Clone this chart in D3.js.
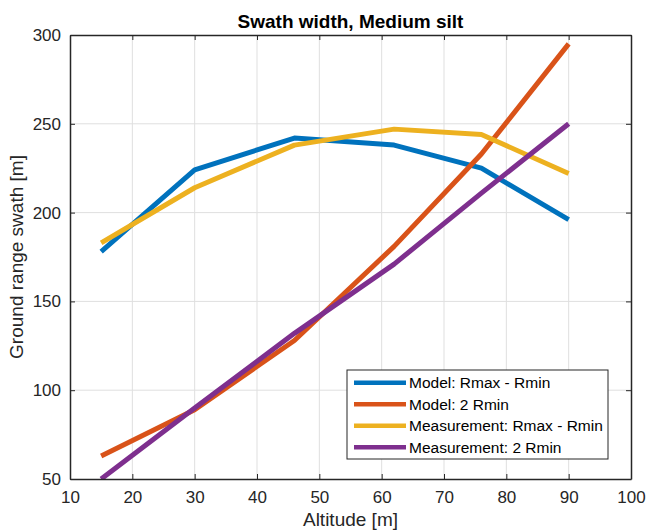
<!DOCTYPE html>
<html>
<head>
<meta charset="utf-8">
<script src="https://cdn.jsdelivr.net/npm/d3@7"></script>
<style>
  body { margin: 0; background: #fff; }
  svg { font-family: "Liberation Sans", Arial, sans-serif; }
  .axis path, .axis line { stroke: #262626; }
  .axis text { fill: #262626; font-size: 17px; }
</style>
</head>
<body>
<script>
// Width and height
var w = 646;
var h = 532;
var margin = {left: 70, right: 15, top: 35, bottom: 53};

// data
var altitude = [15, 30, 46, 62, 76, 90];
var modelSwath = [178, 224, 242, 238, 225, 196];
var model2Rmin = [63, 89, 128, 181, 233, 295];
var measSwath = [183, 214, 238, 247, 244, 222];
var meas2Rmin = [50, 90, 132, 171, 211, 250];

var seriesNames = ["Model: Rmax - Rmin", "Model: 2 Rmin", "Measurement: Rmax - Rmin", "Measurement: 2 Rmin"];
var seriesValues = [modelSwath, model2Rmin, measSwath, meas2Rmin];
var colors = ["#0072BD", "#D95319", "#EDB120", "#7E2F8E"];

var xTicks = [10, 20, 30, 40, 50, 60, 70, 80, 90, 100];
var yTicks = [50, 100, 150, 200, 250, 300];

var xScale = d3.scaleLinear()
    .domain([10, 100])
    .range([margin.left, w - margin.right]);

var yScale = d3.scaleLinear()
    .domain([50, 300])
    .range([h - margin.bottom, margin.top]);

var svg = d3.select("body")
    .append("svg")
    .attr("width", w)
    .attr("height", h);

var x0 = margin.left, x1 = w - margin.right;
var y0 = margin.top, y1 = h - margin.bottom;

// grid
svg.append("g")
    .selectAll("line.vgrid")
    .data(xTicks.slice(1, -1))
    .enter()
    .append("line")
    .attr("x1", function(d) { return xScale(d); })
    .attr("x2", function(d) { return xScale(d); })
    .attr("y1", y0)
    .attr("y2", y1)
    .attr("stroke", "#dfdfdf")
    .attr("stroke-width", 1);

svg.append("g")
    .selectAll("line.hgrid")
    .data(yTicks.slice(1, -1))
    .enter()
    .append("line")
    .attr("x1", x0)
    .attr("x2", x1)
    .attr("y1", function(d) { return yScale(d); })
    .attr("y2", function(d) { return yScale(d); })
    .attr("stroke", "#dfdfdf")
    .attr("stroke-width", 1);

// clip
svg.append("clipPath")
    .attr("id", "plotclip")
    .append("rect")
    .attr("x", x0)
    .attr("y", y0)
    .attr("width", x1 - x0)
    .attr("height", y1 - y0);

var line = d3.line()
    .x(function(d, i) { return xScale(altitude[i]); })
    .y(function(d) { return yScale(d); });

svg.append("g")
    .attr("clip-path", "url(#plotclip)")
    .selectAll("path")
    .data(seriesValues)
    .enter()
    .append("path")
    .attr("d", line)
    .attr("fill", "none")
    .attr("stroke", function(d, i) { return colors[i]; })
    .attr("stroke-width", 5)
    .attr("stroke-linejoin", "round");

// axes (ticks inward)
var xAxis = d3.axisBottom(xScale).tickValues(xTicks).tickSizeInner(-5).tickSizeOuter(0).tickPadding(12);
var yAxis = d3.axisLeft(yScale).tickValues(yTicks).tickSizeInner(-5).tickSizeOuter(0).tickPadding(9);
var xTop = d3.axisTop(xScale).tickValues(xTicks).tickSizeInner(-5).tickSizeOuter(0).tickFormat("");
var yRight = d3.axisRight(yScale).tickValues(yTicks).tickSizeInner(-5).tickSizeOuter(0).tickFormat("");

svg.append("g")
    .attr("class", "axis")
    .attr("transform", "translate(0," + y1 + ")")
    .call(xAxis);

svg.append("g")
    .attr("class", "axis")
    .attr("transform", "translate(" + x0 + ",0)")
    .call(yAxis);

svg.append("g")
    .attr("class", "axis")
    .attr("transform", "translate(0," + y0 + ")")
    .call(xTop);

svg.append("g")
    .attr("class", "axis")
    .attr("transform", "translate(" + x1 + ",0)")
    .call(yRight);

svg.selectAll(".axis path").attr("stroke-width", 1.5);
svg.selectAll(".axis text").attr("font-family", "Liberation Sans, Arial, sans-serif");

// title and labels
svg.append("text")
    .attr("x", (x0 + x1) / 2)
    .attr("y", 28)
    .attr("text-anchor", "middle")
    .attr("font-size", "19px")
    .attr("font-weight", "bold")
    .attr("fill", "#000")
    .text("Swath width, Medium silt");

svg.append("text")
    .attr("x", (x0 + x1) / 2)
    .attr("y", 526)
    .attr("text-anchor", "middle")
    .attr("font-size", "19px")
    .attr("fill", "#262626")
    .text("Altitude [m]");

svg.append("text")
    .attr("transform", "translate(23," + ((y0 + y1) / 2) + ") rotate(-90)")
    .attr("text-anchor", "middle")
    .attr("font-size", "19px")
    .attr("fill", "#262626")
    .text("Ground range swath [m]");

// legend
var legend = svg.append("g").attr("transform", "translate(347,370)");

legend.append("rect")
    .attr("width", 261)
    .attr("height", 89)
    .attr("fill", "#fff")
    .attr("stroke", "#262626")
    .attr("stroke-width", 1);

var items = legend.selectAll("g.item")
    .data(seriesNames)
    .enter()
    .append("g")
    .attr("transform", function(d, i) { return "translate(0," + (12.7 + i * 21.5) + ")"; });

items.append("line")
    .attr("x1", 7)
    .attr("x2", 59)
    .attr("stroke", function(d, i) { return colors[i]; })
    .attr("stroke-width", 4.5);

items.append("text")
    .attr("x", 62)
    .attr("dy", "0.35em")
    .attr("font-size", "15.5px")
    .attr("fill", "#000")
    .text(function(d) { return d; });
</script>
</body>
</html>
